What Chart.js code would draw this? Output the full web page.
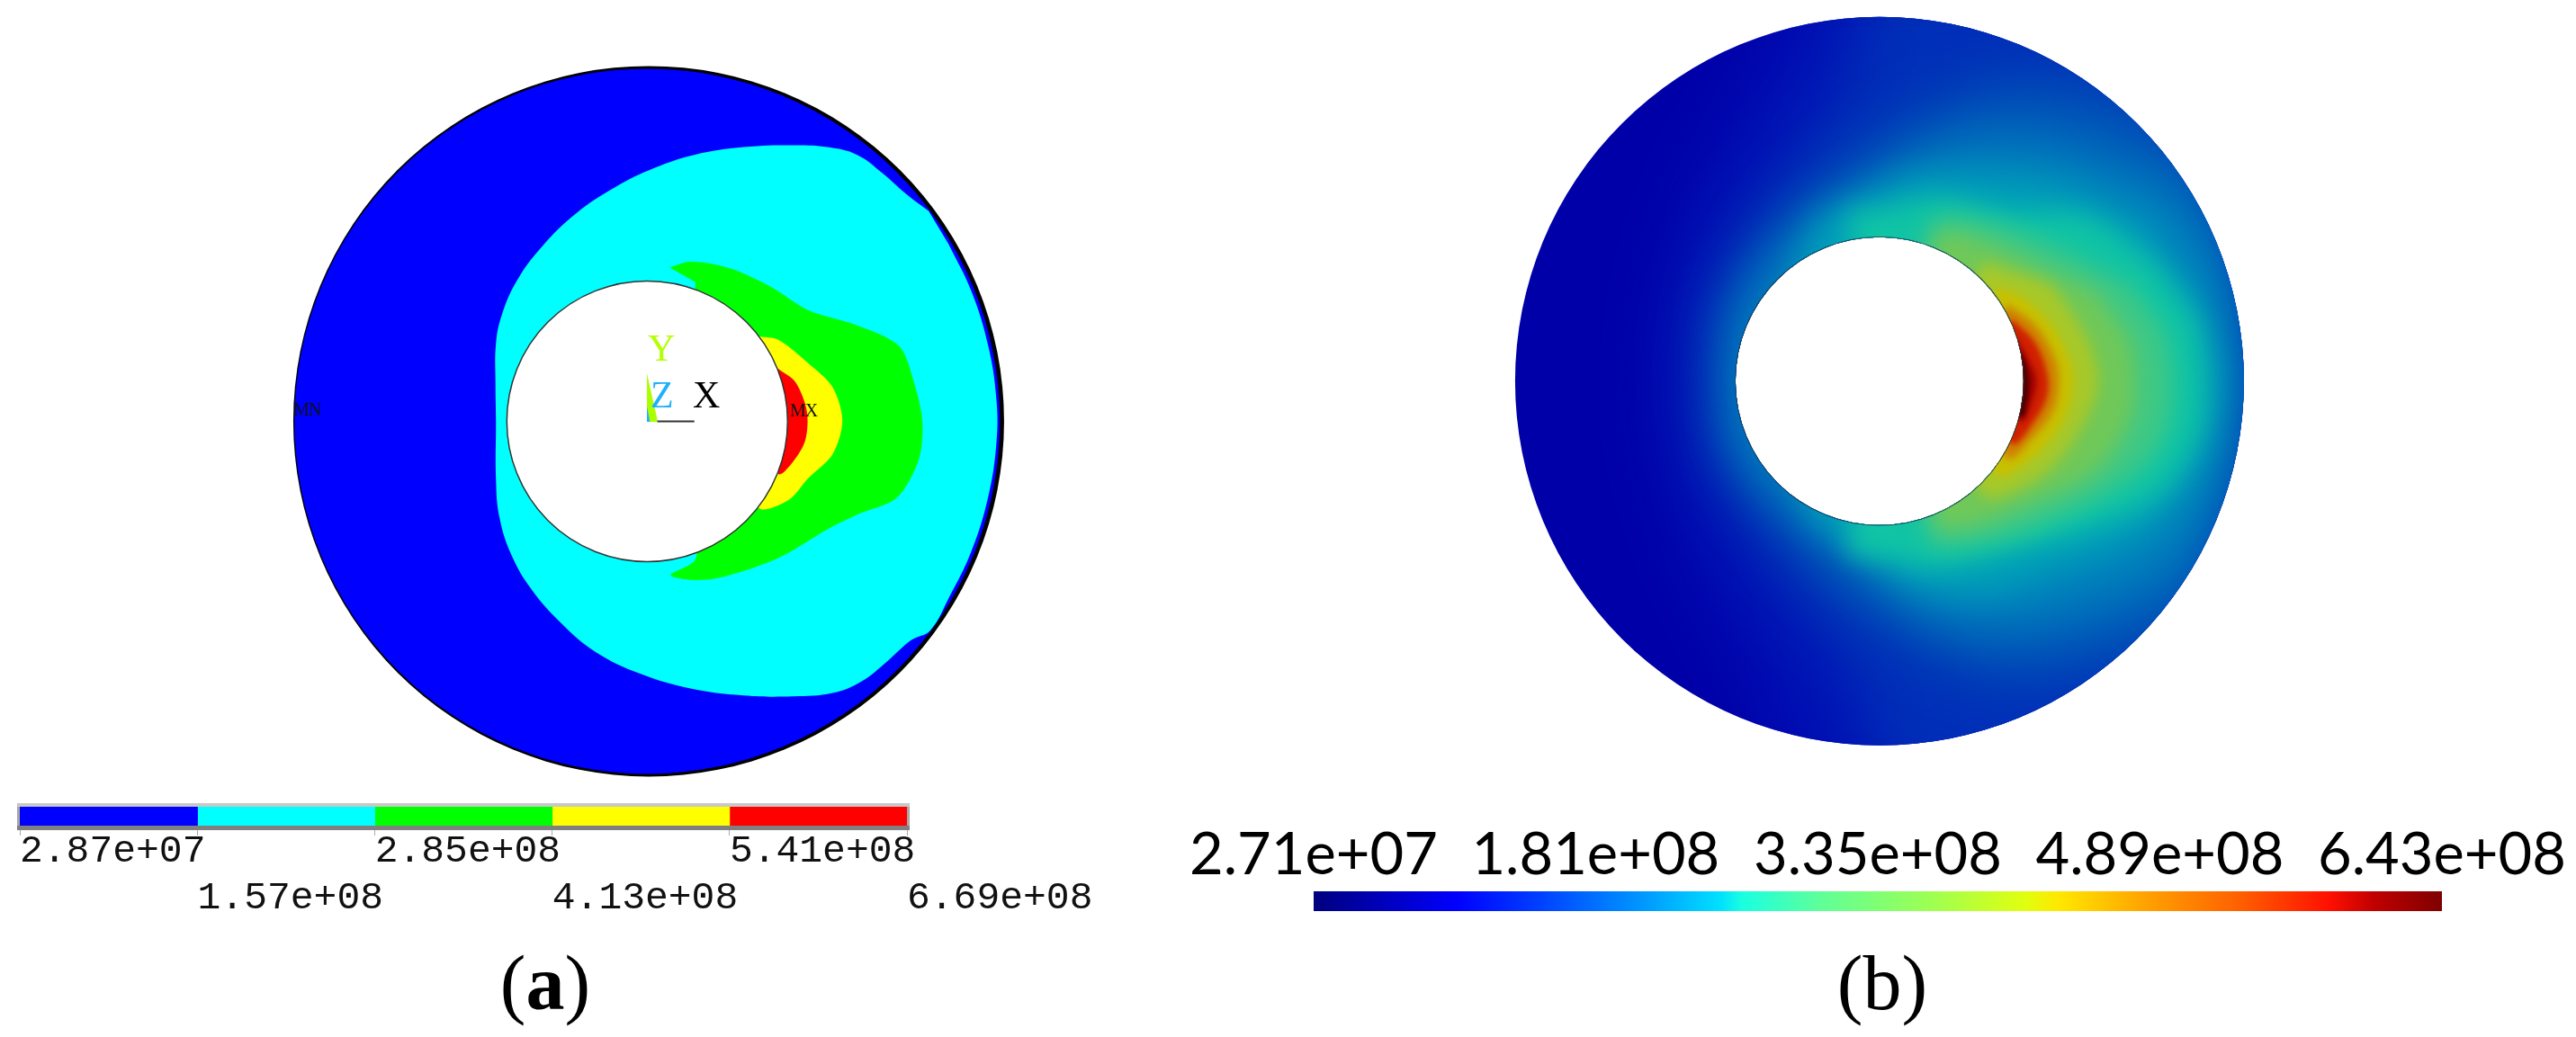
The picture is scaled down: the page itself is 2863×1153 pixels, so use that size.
<!DOCTYPE html>
<html>
<head>
<meta charset="utf-8">
<script src="https://cdn.jsdelivr.net/npm/chart.js@4/dist/chart.umd.min.js"></script>
<style>
  html, body { margin: 0; background: #fff; width: 2863px; height: 1153px; overflow: hidden; }
  canvas { position: absolute; }
  .lbl { position: absolute; line-height: 1; white-space: nowrap; }
  .axis { font-family: "Liberation Serif", serif; font-size: 42px; }
  .node { font-family: "Liberation Serif", serif; font-size: 20px; color: #111; letter-spacing: -1px; }
  .cap { font-family: "Liberation Serif", serif; font-size: 86px; color: #000; transform: translateX(-50%); }
</style>
</head>
<body>
<canvas id="plateA" width="860" height="840" style="left:300px;top:50px"></canvas>
<canvas id="legendA" width="1250" height="170" style="left:0;top:870px"></canvas>
<canvas id="plateB" width="1060" height="1050" style="left:1560px;top:-100px"></canvas>
<canvas id="legendB" width="1563" height="140" style="left:1300px;top:890px"></canvas>

<div class="lbl axis" style="left:720px;top:366px;color:#b4ff00">Y</div>
<div class="lbl axis" style="left:723px;top:418px;color:#1eb0ff">Z</div>
<div class="lbl axis" style="left:770px;top:418px;color:#000">X</div>
<div class="lbl node" style="left:326px;top:445px">MN</div>
<div class="lbl node" style="left:878px;top:446px">MX</div>
<div class="lbl cap" style="left:606px;top:1050px">(<b>a</b>)</div>
<div class="lbl cap" style="left:2092px;top:1050px">(b)</div>

<script>
// panel a: positions are in plot units (0..1568 across the canvas)
const contourCyan = [[1335,345],[1290,310],[1240,265],[1190,228],[1130,212],[1060,208],[960,212],[860,228],[780,255],[700,295],[620,350],[550,420],[500,490],[470,560],[458,620],[457,700],[458,780],[458,900],[465,980],[490,1060],[530,1130],[590,1200],[660,1260],[750,1305],[850,1335],[960,1350],[1060,1352],[1140,1345],[1200,1320],[1250,1280],[1300,1235],[1338,1215],[1375,1149],[1421,1052],[1455,940],[1472,828],[1472,734],[1455,622],[1421,510],[1375,413]];
const contourGreen = [[810,462],[850,450],[900,455],[950,470],[1020,505],[1090,550],[1190,582],[1275,625],[1305,700],[1322,780],[1315,860],[1270,940],[1190,975],[1130,1005],[1040,1060],[980,1085],[900,1108],[850,1110],[812,1100],[862,1068],[862,1000],[862,560],[862,492]];
const contourYellow = [[990,605],[1030,612],[1090,660],[1140,710],[1160,780],[1140,850],[1090,900],[1050,945],[990,960],[950,780]];
const contourRed = [[1030,672],[1065,700],[1088,760],[1085,820],[1060,865],[1030,890],[980,780]];
const triadGreen = [[764,682],[764,782],[786,782]];
const triadCyan = [[764,750],[770,782],[764,782]];
const triadX = [[785,781],[860,781]];
const plateCenterA = [764.5, 781];

const bandColorsA = ['#0000ff', '#00ffff', '#00ff00', '#ffff00', '#ff0000'];
const bandTicksA = [2.87e7, 1.57e8, 2.85e8, 4.13e8, 5.41e8, 6.69e8];
const bandLabelsA = ['2.87e+07', '1.57e+08', '2.85e+08', '4.13e+08', '5.41e+08', '6.69e+08'];

// panel b: iso-bands, lowest first
const fieldColors = ['#0010b4', '#0030b8', '#0058b8', '#0080bc', '#00a0b8', '#10c4a4', '#40c884', '#70c858', '#a8c828', '#c8c000', '#d08000', '#d02000', '#a00000', '#500000'];
const fieldBlur = [35, 35, 30, 25, 18, 14, 12, 11, 8, 5, 4, 3, 3, 2];
const band1 = [[620,-60],[500,200],[380,450],[330,700],[330,900],[390,1130],[500,1350],[640,1600],[1700,1600],[1700,-60]];
const band2 = [[760,-60],[700,170],[600,320],[500,470],[430,620],[420,780],[440,950],[520,1100],[620,1260],[720,1400],[820,1600],[1700,1600],[1700,-60]];
const band3 = [[1400,260],[1200,180],[1000,180],[830,260],[700,350],[570,470],[470,640],[465,780],[470,920],[570,1070],[690,1200],[830,1300],[1000,1380],[1200,1370],[1400,1290],[1490,1100],[1520,950],[1530,780],[1520,620],[1490,450]];
const band4 = [[1380,385],[1200,310],[1050,280],[900,300],[760,380],[650,450],[560,540],[490,680],[490,880],[560,1000],[660,1090],[760,1180],[900,1270],[1050,1290],[1200,1260],[1380,1175],[1470,1020],[1500,890],[1510,780],[1500,650],[1470,510]];
const band5 = [[1320,455],[1150,380],[1000,360],[860,360],[740,410],[650,470],[600,780],[650,1060],[740,1120],[850,1200],[1000,1220],[1150,1170],[1320,1095],[1430,960],[1470,780],[1430,610]];
const band6 = [[1340,540],[1200,445],[1050,435],[900,405],[790,430],[720,450],[800,780],[720,1125],[800,1145],[900,1165],[1050,1130],[1200,1085],[1340,1020],[1425,900],[1440,780],[1425,660]];
const band7 = [[1290,585],[1100,490],[950,445],[880,465],[850,780],[880,1105],[950,1120],[1100,1080],[1290,980],[1360,890],[1375,780],[1360,680]];
const band8 = [[1220,600],[1060,525],[960,485],[900,485],[880,780],[900,1075],[960,1080],[1060,1045],[1220,965],[1290,860],[1300,780],[1290,700]];
const band9 = [[1130,585],[1040,555],[990,545],[900,780],[990,1015],[1060,1005],[1140,950],[1205,850],[1225,780],[1205,700],[1170,640]];
const band10 = [[1020,590],[1070,610],[1125,660],[1160,720],[1175,780],[1160,850],[1125,905],[1070,955],[1020,975],[950,780]];
const band11 = [[1040,625],[1095,665],[1135,730],[1145,780],[1135,840],[1095,895],[1040,940],[960,780]];
const band12 = [[1050,655],[1095,700],[1120,760],[1122,810],[1095,865],[1050,910],[970,780]];
const band13 = [[1060,695],[1090,750],[1100,780],[1092,820],[1068,865],[980,780]];
const band14 = [[1070,725],[1082,760],[1085,790],[1080,830],[1070,855],[990,790]];
const fieldBands = [band1, band2, band3, band4, band5, band6, band7, band8, band9, band10, band11, band12, band13, band14];
const plateCenterB = [782, 782];

const barTicksB = [2.71e7, 1.81e8, 3.35e8, 4.89e8, 6.43e8];
const barLabelsB = ['2.71e+07', '1.81e+08', '3.35e+08', '4.89e+08', '6.43e+08'];
const barStops = [0, 0.127, 0.2, 0.3, 0.36, 0.38, 0.45, 0.55, 0.63, 0.66, 0.74, 0.82, 0.9, 0.94, 1];
const barColors = ['#00007f', '#0000ff', '#0040ff', '#00a0ff', '#00e0ff', '#1affe0', '#60ff98', '#a0ff50', '#e0ff10', '#ffe800', '#ffa000', '#ff6000', '#ff1000', '#c00000', '#7f0000'];

Chart.defaults.animation = false;
Chart.defaults.responsive = false;
Chart.defaults.plugins.legend.display = false;
Chart.defaults.plugins.tooltip.enabled = false;

const toPts = arr => arr.map(p => ({ x: p[0], y: p[1] }));
const polygon = (pts, color, order, tension) => ({
  data: toPts(pts), showLine: true, fill: 'shape', tension: tension || 0, pointRadius: 0,
  borderWidth: 0, backgroundColor: color, order: order, clip: false
});
const disc = (center, r, fill, line, lineW, order) => ({
  data: toPts([center]), pointRadius: r, pointBackgroundColor: fill,
  pointBorderColor: line, pointBorderWidth: lineW, order: order, clip: false
});
const hiddenAxes = (xr, yr) => ({
  x: { type: 'linear', display: false, min: xr[0], max: xr[1] },
  y: { type: 'linear', display: false, min: yr[0], max: yr[1], reverse: true }
});

new Chart(document.getElementById('plateA'), {
  type: 'scatter',
  data: {
    datasets: [
      disc([plateCenterA[0] + 3, plateCenterA[1]], 395, '#000000', '#000000', 0, 90),
      disc(plateCenterA, 392, '#0000ff', '#0000ff', 0, 80),
      polygon(contourCyan, '#00ffff', 70, 0.4),
      polygon(contourGreen, '#00ff00', 60, 0.3),
      polygon(contourYellow, '#ffff00', 50, 0.3),
      polygon(contourRed, '#ff0000', 40, 0.3),
      disc(plateCenterA, 156, '#ffffff', '#333333', 1.5, 30),
      polygon(triadGreen, '#aaff00', 20),
      polygon(triadCyan, '#1eb0ff', 10),
      { data: toPts(triadX), showLine: true, pointRadius: 0, borderColor: '#333333', borderWidth: 2, order: 5 }
    ]
  },
  options: { layout: { autoPadding: false, padding: 0 }, scales: hiddenAxes([0, 1568], [0, 1568]) }
});

// frame of the banded legend, light on top and dark below
const legendFrame = {
  id: 'legendFrame',
  beforeDatasetsDraw(chart) {
    const { ctx, chartArea: a } = chart;
    ctx.save();
    ctx.fillStyle = '#c8c8c8';
    ctx.fillRect(a.left - 3, a.top - 4, a.right - a.left + 6, 4);
    ctx.fillStyle = '#a8a8a8';
    ctx.fillRect(a.left - 3, a.top, 3, a.bottom - a.top);
    ctx.fillRect(a.right, a.top, 3, a.bottom - a.top);
    ctx.fillStyle = '#808080';
    ctx.fillRect(a.left - 3, a.bottom, a.right - a.left + 6, 5);
    ctx.restore();
  }
};

new Chart(document.getElementById('legendA'), {
  type: 'bar',
  plugins: [legendFrame],
  data: {
    labels: ['band'],
    datasets: bandColorsA.map((c, i) => ({
      data: [[bandTicksA[i], bandTicksA[i + 1]]],
      backgroundColor: c, categoryPercentage: 1, barPercentage: 1, grouped: false
    }))
  },
  options: {
    indexAxis: 'y',
    layout: { padding: { left: 22, right: 242, top: 27, bottom: 0 } },
    scales: {
      y: { display: false },
      x: {
        type: 'linear', position: 'bottom', min: bandTicksA[0], max: bandTicksA[5],
        afterBuildTicks: ax => { ax.ticks = bandTicksA.map(v => ({ value: v })); },
        afterFit: ax => { ax.height = 122; ax.paddingLeft = 0; ax.paddingRight = 0; },
        border: { display: false },
        grid: { drawOnChartArea: false, tickLength: 11, color: '#aaaaaa', tickWidth: 1 },
        ticks: {
          align: 'start', autoSkip: false, maxRotation: 0, minRotation: 0, padding: -9,
          color: '#111111',
          font: { family: '"Liberation Mono", monospace', size: 43, lineHeight: 1.22 },
          callback: (v, i) => (i % 2 === 0 ? [bandLabelsA[i], ''] : ['', bandLabelsA[i]])
        }
      }
    }
  }
});

// clips the bands to the annulus and blurs each one, next filter is set after the previous band
const annulusClip = {
  id: 'annulusClip',
  beforeDatasetsDraw(chart) {
    const { ctx, scales } = chart;
    const cx = scales.x.getPixelForValue(plateCenterB[0]);
    const cy = scales.y.getPixelForValue(plateCenterB[1]);
    ctx.save();
    ctx.beginPath();
    ctx.arc(cx, cy, 405, 0, Math.PI * 2);
    ctx.arc(cx, cy, 160, 0, Math.PI * 2);
    ctx.clip('evenodd');
    ctx.filter = 'none';
  },
  afterDatasetDraw(chart, args) {
    // dataset 0 is the base disc, bands follow it in order
    const next = fieldBlur[args.index];
    chart.ctx.filter = next ? 'blur(' + next + 'px)' : 'none';
  },
  afterDatasetsDraw(chart) {
    chart.ctx.restore();
  }
};

const fieldSets = [disc(plateCenterB, 406, '#0000a8', '#0000a8', 0, 100)];
fieldBands.forEach((pts, i) => fieldSets.push(polygon(pts, fieldColors[i], 90 - i, 0.35)));
fieldSets.push(disc(plateCenterB, 160, 'rgba(0,0,0,0)', '#1c3c4c', 1.5, 1));

new Chart(document.getElementById('plateB'), {
  type: 'scatter',
  plugins: [annulusClip],
  data: { datasets: fieldSets },
  options: { layout: { autoPadding: false, padding: 0 }, scales: hiddenAxes([-182, 1750], [-184.5, 1753]) }
});

new Chart(document.getElementById('legendB'), {
  type: 'bar',
  data: {
    labels: ['range'],
    datasets: [{
      data: [[barTicksB[0], barTicksB[4]]],
      categoryPercentage: 1, barPercentage: 1,
      backgroundColor: c => {
        const a = c.chart.chartArea;
        if (!a) return '#0000ff';
        const g = c.chart.ctx.createLinearGradient(a.left, 0, a.right, 0);
        barStops.forEach((s, i) => g.addColorStop(s, barColors[i]));
        return g;
      }
    }]
  },
  options: {
    indexAxis: 'y',
    layout: { padding: { left: 160, right: 149, top: 0, bottom: 17 } },
    scales: {
      y: { display: false },
      x: {
        type: 'linear', position: 'top', min: barTicksB[0], max: barTicksB[4],
        afterBuildTicks: ax => { ax.ticks = barTicksB.map(v => ({ value: v })); },
        afterFit: ax => { ax.height = 101; },
        border: { display: false },
        grid: { display: false, drawTicks: false },
        ticks: {
          autoSkip: false, maxRotation: 0, minRotation: 0, padding: 1,
          color: '#000000',
          font: { family: 'Lato, sans-serif', size: 65 },
          callback: (v, i) => barLabelsB[i]
        }
      }
    }
  }
});
</script>
</body>
</html>
